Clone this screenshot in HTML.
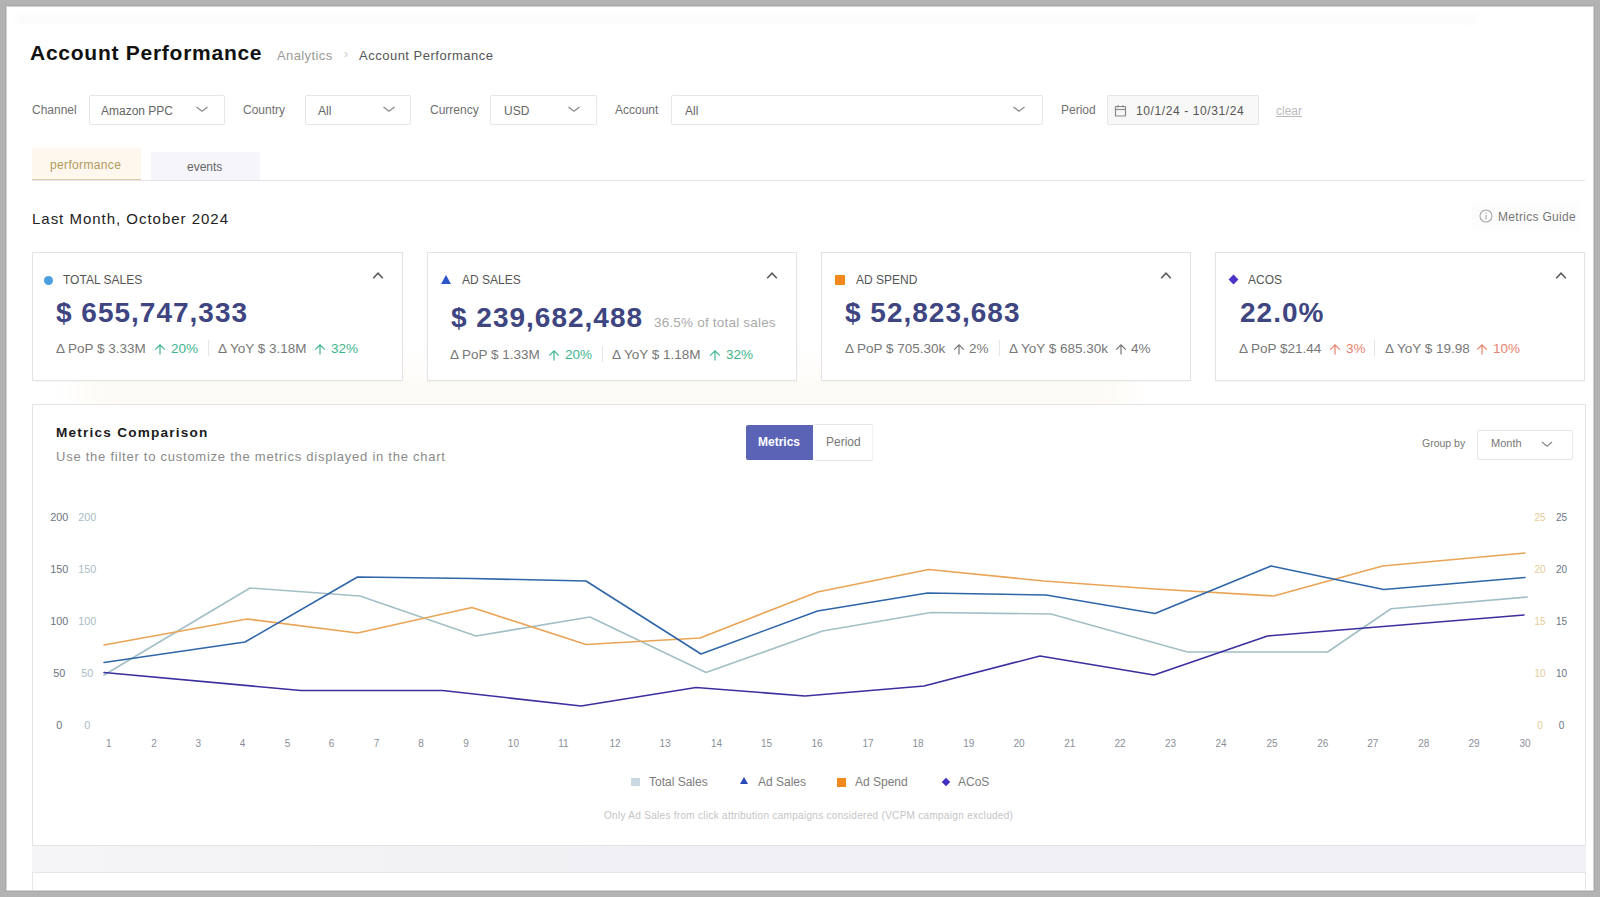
<!DOCTYPE html>
<html><head><meta charset="utf-8">
<style>
*{box-sizing:border-box;margin:0;padding:0}
html,body{width:1600px;height:897px;overflow:hidden;background:#b3b3b3;font-family:"Liberation Sans",sans-serif}
.pg{position:absolute;left:7px;top:7px;width:1586px;height:883px;background:#fff;box-shadow:0 0 0 1px #d4d4d4,0 0 0 2px #a9a9a9}
.a{position:absolute;white-space:nowrap;line-height:1}
.box{position:absolute;border:1px solid #e6e6e9;background:#fff;border-radius:2px}
.chev{position:absolute;width:7px;height:7px;border-right:1.2px solid #808080;border-bottom:1.2px solid #808080;transform:rotate(45deg)}
.card{position:absolute;top:252px;width:370px;height:129px;border:1px solid #e3e3e5;background:#fff;box-shadow:0 1px 2px rgba(0,0,0,0.03)}
.lbl{font-size:12px;color:#555;letter-spacing:0px}
.val{font-size:28px;font-weight:bold;color:#3e4580;letter-spacing:1px}
.dl{font-size:13.5px;color:#777}
.up{font-size:14px;color:#777}
.g{color:#3fb58f}
.r{color:#e8836e}
.dv{position:absolute;width:1px;height:16px;background:#e6e6e6}
.chu{position:absolute;width:7px;height:7px;border-left:1.5px solid #666;border-top:1.5px solid #666;transform:rotate(45deg)}
</style></head>
<body>
<div class="pg"></div>
<div style="position:absolute;left:16px;top:14px;width:1460px;height:10px;background:#fbfbfb;filter:blur(2px)"></div>
<div style="position:absolute;left:80px;top:372px;width:1050px;height:40px;background:#fdfaf4;filter:blur(14px)"></div>

<!-- Header -->
<div class="a" style="left:30px;top:42px;font-size:21px;font-weight:bold;color:#111;letter-spacing:0.74px">Account Performance</div>
<div class="a" style="left:277px;top:49px;font-size:13px;color:#9a9a9a;letter-spacing:0.4px">Analytics</div>
<div class="a" style="left:344px;top:48px;font-size:12px;color:#c8c8c8">›</div>
<div class="a" style="left:359px;top:49px;font-size:13px;color:#555;letter-spacing:0.5px">Account Performance</div>

<!-- Filters -->
<div class="a" style="left:32px;top:104px;font-size:12px;color:#707070">Channel</div>
<div class="box" style="left:89px;top:95px;width:136px;height:30px"></div>
<div class="a" style="left:101px;top:105px;font-size:12px;color:#666">Amazon PPC</div>
<svg style="position:absolute;left:195.8px;top:106.3px" width="12" height="7" viewBox="0 0 12 7"><path d="M0.50 1L6 5.20L11.50 1" fill="none" stroke="#8a8a8a" stroke-width="1.3"/></svg>

<div class="a" style="left:243px;top:104px;font-size:12px;color:#707070">Country</div>
<div class="box" style="left:305px;top:95px;width:106px;height:30px"></div>
<div class="a" style="left:318px;top:105px;font-size:12px;color:#666">All</div>
<svg style="position:absolute;left:383.3px;top:106.3px" width="12" height="7" viewBox="0 0 12 7"><path d="M0.50 1L6 5.20L11.50 1" fill="none" stroke="#8a8a8a" stroke-width="1.3"/></svg>

<div class="a" style="left:430px;top:104px;font-size:12px;color:#707070">Currency</div>
<div class="box" style="left:490px;top:95px;width:107px;height:30px"></div>
<div class="a" style="left:504px;top:105px;font-size:12px;color:#666">USD</div>
<svg style="position:absolute;left:568.0px;top:106.3px" width="12" height="7" viewBox="0 0 12 7"><path d="M0.50 1L6 5.20L11.50 1" fill="none" stroke="#8a8a8a" stroke-width="1.3"/></svg>

<div class="a" style="left:615px;top:104px;font-size:12px;color:#707070">Account</div>
<div class="box" style="left:671px;top:95px;width:372px;height:30px"></div>
<div class="a" style="left:685px;top:105px;font-size:12px;color:#666">All</div>
<svg style="position:absolute;left:1012.8px;top:106.3px" width="12" height="7" viewBox="0 0 12 7"><path d="M0.50 1L6 5.20L11.50 1" fill="none" stroke="#8a8a8a" stroke-width="1.3"/></svg>

<div class="a" style="left:1061px;top:104px;font-size:12px;color:#707070">Period</div>
<div class="box" style="left:1107px;top:95px;width:152px;height:30px;background:#f8f8f8"></div>
<svg style="position:absolute;left:1114px;top:104px" width="13" height="13" viewBox="0 0 13 13"><rect x="1.5" y="2.5" width="10" height="9.5" rx="0.4" fill="none" stroke="#888" stroke-width="1.2"/><line x1="1.5" y1="5.5" x2="11.5" y2="5.5" stroke="#888" stroke-width="1.1"/><line x1="4" y1="1" x2="4" y2="3.5" stroke="#888" stroke-width="1.1"/><line x1="9" y1="1" x2="9" y2="3.5" stroke="#888" stroke-width="1.1"/></svg>
<div class="a" style="left:1136px;top:105px;font-size:12px;color:#555;letter-spacing:0.6px">10/1/24 - 10/31/24</div>
<div class="a" style="left:1276px;top:105px;font-size:12px;color:#bbb;text-decoration:underline">clear</div>

<!-- Tabs -->
<div style="position:absolute;left:32px;top:180px;width:1553px;height:1px;background:#e6e6ea"></div>
<div style="position:absolute;left:32px;top:148px;width:109px;height:32px;background:#fdf7ed;border-bottom:1.5px solid #dccaa6"></div>
<div class="a" style="left:50px;top:159px;font-size:12px;color:#b39a5e;letter-spacing:0.35px">performance</div>
<div style="position:absolute;left:151px;top:152px;width:109px;height:28px;background:#f6f6fa"></div>
<div class="a" style="left:187px;top:161px;font-size:12px;color:#666">events</div>

<!-- Section header -->
<div class="a" style="left:32px;top:211px;font-size:15px;color:#222;letter-spacing:0.98px">Last Month, October 2024</div>
<div style="position:absolute;left:1472px;top:201px;width:108px;height:30px;background:#fcfcfc"></div><svg style="position:absolute;left:1479px;top:208.5px" width="14" height="14" viewBox="0 0 14 14"><circle cx="7" cy="7" r="6" fill="none" stroke="#a8a8a8" stroke-width="1.1"/><line x1="7" y1="6" x2="7" y2="10.5" stroke="#b0b0b0" stroke-width="1.3"/><circle cx="7" cy="4" r="0.8" fill="#b0b0b0"/></svg><div class="a" style="left:1498px;top:211px;font-size:12px;color:#777;letter-spacing:0.3px">Metrics Guide</div>

<!-- Cards -->
<div class="card" style="left:32px;width:371px"></div>
<div class="card" style="left:427px"></div>
<div class="card" style="left:821px"></div>
<div class="card" style="left:1215px"></div>


<!-- Card contents -->
<div style="position:absolute;left:44px;top:276px;width:9px;height:9px;border-radius:50%;background:#4b9fe1"></div>
<div class="a lbl" style="left:63px;top:274px">TOTAL SALES</div>
<svg style="position:absolute;left:372.4px;top:271px" width="12" height="9" viewBox="0 0 12 9"><path d="M1.2 7.2L6 2.2L10.8 7.2" fill="none" stroke="#5a5a5a" stroke-width="1.6"/></svg>
<div class="a val" style="left:56px;top:299px">$ 655,747,333</div>
<div class="a dl" style="left:56px;top:342px">&Delta; PoP $ 3.33M</div>
<svg style="position:absolute;left:154px;top:344px" width="12" height="11" viewBox="0 0 12 11"><path d="M6 10.5V1M1.2 5.6L6 0.9L10.8 5.6" fill="none" stroke="#3fb58f" stroke-width="1.2"/></svg>
<div class="a dl g" style="left:171px;top:342px">20%</div>
<div class="dv" style="left:208px;top:340px"></div>
<div class="a dl" style="left:218px;top:342px">&Delta; YoY $ 3.18M</div>
<svg style="position:absolute;left:314px;top:344px" width="12" height="11" viewBox="0 0 12 11"><path d="M6 10.5V1M1.2 5.6L6 0.9L10.8 5.6" fill="none" stroke="#3fb58f" stroke-width="1.2"/></svg>
<div class="a dl g" style="left:331px;top:342px">32%</div>

<div style="position:absolute;left:441px;top:275px;width:0;height:0;border-left:5px solid transparent;border-right:5px solid transparent;border-bottom:9px solid #2c55c8"></div>
<div class="a lbl" style="left:462px;top:274px">AD SALES</div>
<svg style="position:absolute;left:766.4px;top:271px" width="12" height="9" viewBox="0 0 12 9"><path d="M1.2 7.2L6 2.2L10.8 7.2" fill="none" stroke="#5a5a5a" stroke-width="1.6"/></svg>
<div class="a val" style="left:451px;top:304px">$ 239,682,488</div>
<div class="a" style="left:654px;top:316px;font-size:13.5px;color:#aaa;letter-spacing:0.2px">36.5% of total sales</div>
<div class="a dl" style="left:450px;top:348px">&Delta; PoP $ 1.33M</div>
<svg style="position:absolute;left:548px;top:350px" width="12" height="11" viewBox="0 0 12 11"><path d="M6 10.5V1M1.2 5.6L6 0.9L10.8 5.6" fill="none" stroke="#3fb58f" stroke-width="1.2"/></svg>
<div class="a dl g" style="left:565px;top:348px">20%</div>
<div class="dv" style="left:602px;top:346px"></div>
<div class="a dl" style="left:612px;top:348px">&Delta; YoY $ 1.18M</div>
<svg style="position:absolute;left:709px;top:350px" width="12" height="11" viewBox="0 0 12 11"><path d="M6 10.5V1M1.2 5.6L6 0.9L10.8 5.6" fill="none" stroke="#3fb58f" stroke-width="1.2"/></svg>
<div class="a dl g" style="left:726px;top:348px">32%</div>

<div style="position:absolute;left:835px;top:275px;width:10px;height:10px;background:#f08a1c"></div>
<div class="a lbl" style="left:856px;top:274px">AD SPEND</div>
<svg style="position:absolute;left:1160.4px;top:271px" width="12" height="9" viewBox="0 0 12 9"><path d="M1.2 7.2L6 2.2L10.8 7.2" fill="none" stroke="#5a5a5a" stroke-width="1.6"/></svg>
<div class="a val" style="left:845px;top:299px">$ 52,823,683</div>
<div class="a dl" style="left:845px;top:342px">&Delta; PoP $ 705.30k</div>
<svg style="position:absolute;left:953px;top:344px" width="12" height="11" viewBox="0 0 12 11"><path d="M6 10.5V1M1.2 5.6L6 0.9L10.8 5.6" fill="none" stroke="#777" stroke-width="1.2"/></svg>
<div class="a dl" style="left:969px;top:342px">2%</div>
<div class="dv" style="left:999px;top:340px"></div>
<div class="a dl" style="left:1009px;top:342px">&Delta; YoY $ 685.30k</div>
<svg style="position:absolute;left:1115px;top:344px" width="12" height="11" viewBox="0 0 12 11"><path d="M6 10.5V1M1.2 5.6L6 0.9L10.8 5.6" fill="none" stroke="#777" stroke-width="1.2"/></svg>
<div class="a dl" style="left:1131px;top:342px">4%</div>

<div style="position:absolute;left:1230px;top:276px;width:7px;height:7px;background:#4a35c8;transform:rotate(45deg)"></div>
<div class="a lbl" style="left:1248px;top:274px">ACOS</div>
<svg style="position:absolute;left:1555.4px;top:271px" width="12" height="9" viewBox="0 0 12 9"><path d="M1.2 7.2L6 2.2L10.8 7.2" fill="none" stroke="#5a5a5a" stroke-width="1.6"/></svg>
<div class="a val" style="left:1240px;top:299px">22.0%</div>
<div class="a dl" style="left:1239px;top:342px">&Delta; PoP $21.44</div>
<svg style="position:absolute;left:1329px;top:344px" width="12" height="11" viewBox="0 0 12 11"><path d="M6 10.5V1M1.2 5.6L6 0.9L10.8 5.6" fill="none" stroke="#e8836e" stroke-width="1.2"/></svg>
<div class="a dl r" style="left:1346px;top:342px">3%</div>
<div class="dv" style="left:1374px;top:340px"></div>
<div class="a dl" style="left:1385px;top:342px">&Delta; YoY $ 19.98</div>
<svg style="position:absolute;left:1476px;top:344px" width="12" height="11" viewBox="0 0 12 11"><path d="M6 10.5V1M1.2 5.6L6 0.9L10.8 5.6" fill="none" stroke="#e8836e" stroke-width="1.2"/></svg>
<div class="a dl r" style="left:1493px;top:342px">10%</div>

<!-- Metrics panel -->
<div style="position:absolute;left:32px;top:404px;width:1554px;height:442px;border:1px solid #e4e4e6;background:#fff"></div>
<div style="position:absolute;left:32px;top:846px;width:1554px;height:26px;background:linear-gradient(90deg,#f5f5f8,#f0f0f4 40%,#f0f0f4 80%,#f2f2f6)"></div>
<div style="position:absolute;left:32px;top:872px;width:1554px;height:18px;border:1px solid #e6e6ea;border-bottom:none;background:#fff"></div>
<div class="a" style="left:56px;top:426px;font-size:13.6px;font-weight:bold;color:#1a1a1a;letter-spacing:1.22px">Metrics Comparison</div>
<div class="a" style="left:56px;top:450px;font-size:13px;color:#8a8a8a;letter-spacing:0.75px">Use the filter to customize the metrics displayed in the chart</div>
<div style="position:absolute;left:746px;top:425px;width:67px;height:35px;background:#5a63b5;border-radius:2px 0 0 2px"></div>
<div class="a" style="left:758px;top:436px;font-size:12px;font-weight:bold;color:#fff">Metrics</div>
<div style="position:absolute;left:815px;top:424px;width:58px;height:37px;border-top:1px solid #e6e6e8;border-bottom:1px solid #e6e6e8;border-right:1px solid #f3f3f4;background:#fff"></div>
<div class="a" style="left:826px;top:436px;font-size:12px;color:#777">Period</div>
<div class="a" style="left:1422px;top:438px;font-size:10.5px;color:#777">Group by</div>
<div class="box" style="left:1477px;top:430px;width:96px;height:30px"></div>
<div class="a" style="left:1491px;top:438px;font-size:11px;color:#777">Month</div>
<svg style="position:absolute;left:1541.0px;top:440.5px" width="12" height="7" viewBox="0 0 12 7"><path d="M1.00 1L6 5.20L11.00 1" fill="none" stroke="#8a8a8a" stroke-width="1.3"/></svg>
<!--CHART-->
<svg style="position:absolute;left:0;top:0" width="1600" height="897" viewBox="0 0 1600 897">
<g font-family="Liberation Sans" font-size="10" text-anchor="middle">
<text x="59.2" y="520.8" font-size="10.8" fill="#6b7480">200</text>
<text x="87.2" y="520.8" font-size="10.8" fill="#a9bcc6">200</text>
<text x="59.2" y="572.8" font-size="10.8" fill="#6b7480">150</text>
<text x="87.2" y="572.8" font-size="10.8" fill="#a9bcc6">150</text>
<text x="59.2" y="624.8" font-size="10.8" fill="#6b7480">100</text>
<text x="87.2" y="624.8" font-size="10.8" fill="#a9bcc6">100</text>
<text x="59.2" y="676.8" font-size="10.8" fill="#6b7480">50</text>
<text x="87.2" y="676.8" font-size="10.8" fill="#a9bcc6">50</text>
<text x="59.2" y="728.8" font-size="10.8" fill="#6b7480">0</text>
<text x="87.2" y="728.8" font-size="10.8" fill="#a9bcc6">0</text>
<text x="1540" y="520.5" fill="#e5cc98">25</text>
<text x="1561.5" y="520.5" fill="#6b7480">25</text>
<text x="1540" y="572.5" fill="#e5cc98">20</text>
<text x="1561.5" y="572.5" fill="#6b7480">20</text>
<text x="1540" y="624.5" fill="#e5cc98">15</text>
<text x="1561.5" y="624.5" fill="#6b7480">15</text>
<text x="1540" y="676.5" fill="#e5cc98">10</text>
<text x="1561.5" y="676.5" fill="#6b7480">10</text>
<text x="1540" y="728.5" fill="#e5cc98">0</text>
<text x="1561.5" y="728.5" fill="#6b7480">0</text>
<text x="108.75" y="746.5" fill="#8a8f98">1</text>
<text x="154" y="746.5" fill="#8a8f98">2</text>
<text x="198.4" y="746.5" fill="#8a8f98">3</text>
<text x="242.5" y="746.5" fill="#8a8f98">4</text>
<text x="287.5" y="746.5" fill="#8a8f98">5</text>
<text x="331.6" y="746.5" fill="#8a8f98">6</text>
<text x="376.6" y="746.5" fill="#8a8f98">7</text>
<text x="421" y="746.5" fill="#8a8f98">8</text>
<text x="466" y="746.5" fill="#8a8f98">9</text>
<text x="513.4" y="746.5" fill="#8a8f98">10</text>
<text x="563.4" y="746.5" fill="#8a8f98">11</text>
<text x="615" y="746.5" fill="#8a8f98">12</text>
<text x="665" y="746.5" fill="#8a8f98">13</text>
<text x="716.5" y="746.5" fill="#8a8f98">14</text>
<text x="766.6" y="746.5" fill="#8a8f98">15</text>
<text x="817" y="746.5" fill="#8a8f98">16</text>
<text x="868" y="746.5" fill="#8a8f98">17</text>
<text x="918" y="746.5" fill="#8a8f98">18</text>
<text x="968.75" y="746.5" fill="#8a8f98">19</text>
<text x="1019" y="746.5" fill="#8a8f98">20</text>
<text x="1069.7" y="746.5" fill="#8a8f98">21</text>
<text x="1120" y="746.5" fill="#8a8f98">22</text>
<text x="1170.6" y="746.5" fill="#8a8f98">23</text>
<text x="1221" y="746.5" fill="#8a8f98">24</text>
<text x="1272" y="746.5" fill="#8a8f98">25</text>
<text x="1322.8" y="746.5" fill="#8a8f98">26</text>
<text x="1372.8" y="746.5" fill="#8a8f98">27</text>
<text x="1423.75" y="746.5" fill="#8a8f98">28</text>
<text x="1474" y="746.5" fill="#8a8f98">29</text>
<text x="1525" y="746.5" fill="#8a8f98">30</text>
</g>
<g fill="none" stroke-width="1.6" stroke-linejoin="round" stroke-linecap="round">
<polyline points="104,675 250,588 360,596 476,636 590,617 706,672.5 822.5,631 931,612.5 1051,614 1187.5,652 1327.5,652 1391,608.75 1527.5,597" stroke="#a3bfc6"/>
<polyline points="104,645 247,619 357.5,633 472,607.5 586,644.5 700,638 817.5,592 928.75,569.5 1043.75,581 1155,589 1273.75,596 1382.5,566 1525,553" stroke="#e9a456"/>
<polyline points="104,662.5 245,642 357.5,577 472,578.5 586,581 701,654 817.5,611 927.5,593 1046,595 1155,613.5 1271,566 1383.75,589.5 1525,577.5" stroke="#2f66a8"/>
<polyline points="104,672.5 301,690.5 442.5,690.5 581,706 696,687.5 805,696 924,686 1040,656 1154,675 1267.5,636 1524,615" stroke="#3b2fa0"/>
</g></svg>
<!--/CHART-->
<!-- Legend -->
<div style="position:absolute;left:631px;top:778px;width:9px;height:8px;background:#c8d9e0"></div>
<div class="a" style="left:649px;top:776px;font-size:12px;color:#7c7c7c">Total Sales</div>
<div style="position:absolute;left:740px;top:777px;width:0;height:0;border-left:4.5px solid transparent;border-right:4.5px solid transparent;border-bottom:7.5px solid #2848b8"></div>
<div class="a" style="left:758px;top:776px;font-size:12px;color:#7c7c7c">Ad Sales</div>
<div style="position:absolute;left:837px;top:778px;width:9px;height:8.5px;background:#f08a1c"></div>
<div class="a" style="left:855px;top:776px;font-size:12px;color:#7c7c7c">Ad Spend</div>
<div style="position:absolute;left:942.5px;top:779px;width:6px;height:6px;background:#4030c0;transform:rotate(45deg)"></div>
<div class="a" style="left:958px;top:776px;font-size:12px;color:#7c7c7c">ACoS</div>
<div class="a" style="left:604px;top:811px;font-size:10px;color:#c4c4c4;letter-spacing:0.3px">Only Ad Sales from click attribution campaigns considered (VCPM campaign excluded)</div>
</body></html>
